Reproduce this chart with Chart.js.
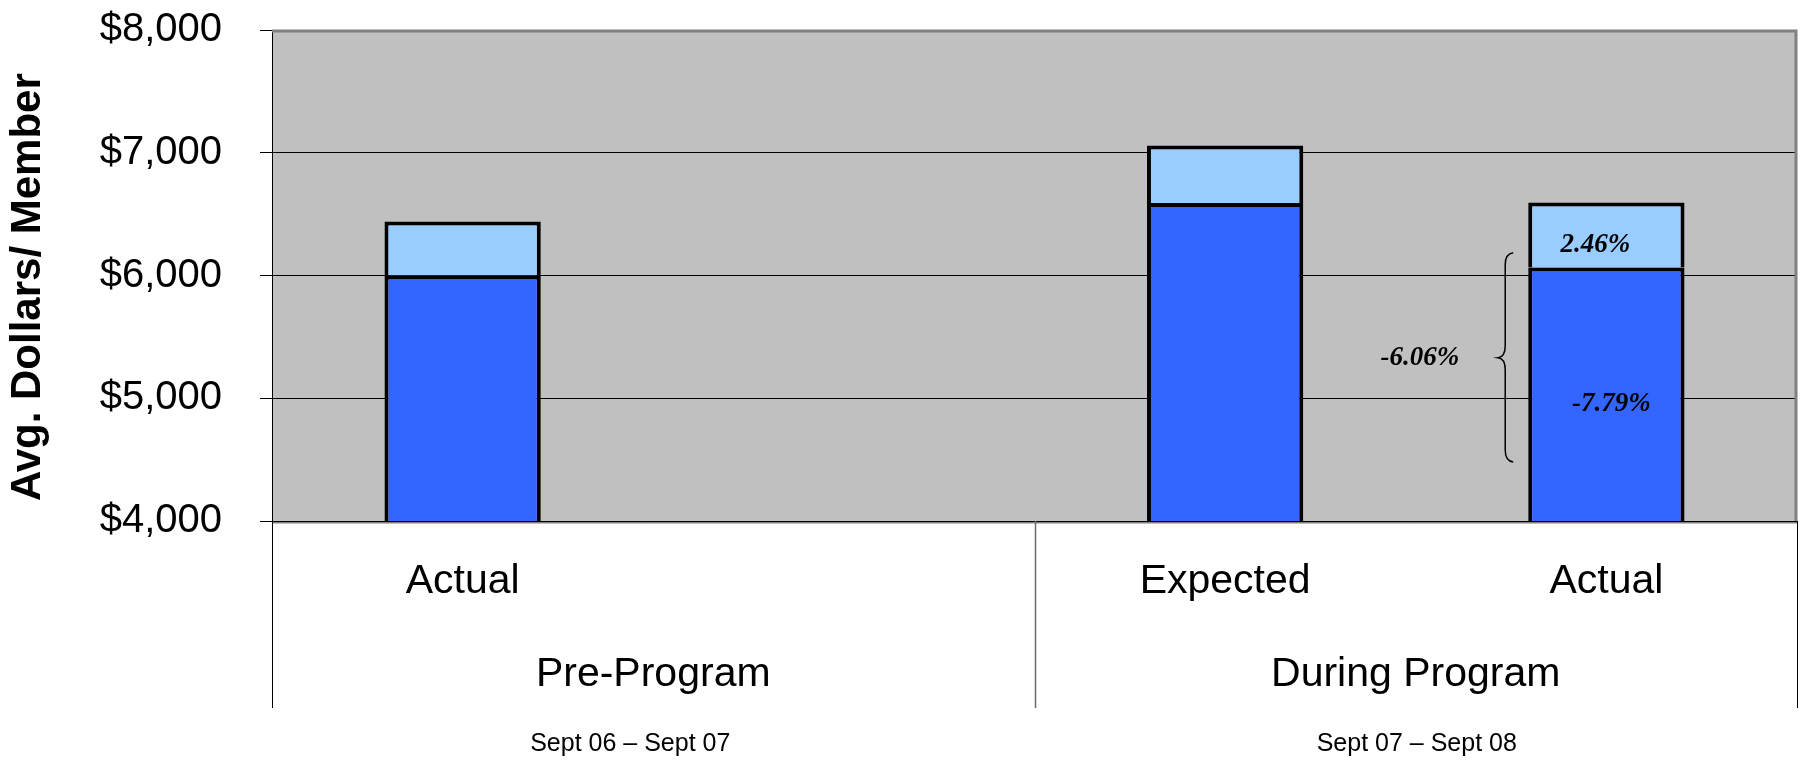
<!DOCTYPE html>
<html>
<head>
<meta charset="utf-8">
<title>Avg. Dollars/ Member</title>
<script src="https://cdn.jsdelivr.net/npm/chart.js@4.4.1/dist/chart.umd.min.js"></script>
<style>
    html, body { margin: 0; padding: 0; background: #fff; }
    #costChart { display: block; }
</style>
</head>
<body>
<canvas id="costChart" width="1810" height="760"></canvas>
<script>
const barLabels = ["Actual", "", "Expected", "Actual"];
const baseCost = [6000, null, 6590, 6065];
const topCost = [440, null, 470, 530];
const yTicks = [4000, 5000, 6000, 7000, 8000];

const groups = [
    { name: "Pre-Program", period: "Sept 06 \u2013 Sept 07", from: 0, to: 2 },
    { name: "During Program", period: "Sept 07 \u2013 Sept 08", from: 2, to: 4 }
];
const periodShift = [-23, 1];

const pctNotes = [
    { text: "2.46%", slot: 3, value: 6250, dx: -11 },
    { text: "-7.79%", slot: 3, value: 4950, dx: 5 },
    { text: "-6.06%", slot: 2.5, value: 5330, dx: 4 }
];
const brace = { slot: 3, from: 6185, to: 4480, tip: 5330 };

const SANS = "'Liberation Sans', Arial, sans-serif";
const SERIF = "'Liberation Serif', 'Times New Roman', serif";

function slotPixel(xScale, slot) {
    const lo = Math.floor(slot);
    if (lo === slot) return xScale.getPixelForValue(slot);
    const a = xScale.getPixelForValue(lo);
    const b = xScale.getPixelForValue(lo + 1);
    return a + (b - a) * (slot - lo);
}

// grey plot fill behind the grid
const plotBackground = {
    id: "plotBackground",
    beforeDraw(chart) {
        const { ctx, chartArea: a } = chart;
        ctx.save();
        ctx.fillStyle = "#c0c0c0";
        ctx.fillRect(a.left, a.top, a.right - a.left, a.bottom - a.top);
        ctx.restore();
    }
};

// frame, group dividers, group labels, percentage notes and the brace
const chartExtras = {
    id: "chartExtras",
    afterDatasetsDraw(chart) {
        const { ctx, chartArea: a, scales: { x, y } } = chart;
        ctx.save();

        ctx.strokeStyle = "#808080";
        ctx.lineWidth = 3;
        ctx.beginPath();
        ctx.moveTo(a.left, a.top + 1);
        ctx.lineTo(a.right - 1, a.top + 1);
        ctx.lineTo(a.right - 1, a.bottom);
        ctx.stroke();

        ctx.lineWidth = 2;
        ctx.beginPath();
        ctx.moveTo(a.left, a.bottom + 1.5);
        ctx.lineTo(a.right, a.bottom + 1.5);
        ctx.stroke();

        ctx.strokeStyle = "#000";
        ctx.lineWidth = 1;
        ctx.beginPath();
        ctx.moveTo(a.left - 12, Math.round(a.bottom) + 0.5);
        ctx.lineTo(a.right, Math.round(a.bottom) + 0.5);
        ctx.stroke();

        // vertical dividers under the axis
        const dividerEnd = 708;
        const bounds = [0, 2, 4];
        bounds.forEach((b, i) => {
            let px = slotPixel(x, b - 0.5);
            if (i === 0) px = a.left;
            if (i === bounds.length - 1) px = a.right;
            ctx.strokeStyle = i === 1 ? "#6a6a6a" : "#000";
            ctx.lineWidth = i === 1 ? 1.5 : 1;
            ctx.beginPath();
            ctx.moveTo(Math.round(px) + 0.5, a.bottom);
            ctx.lineTo(Math.round(px) + 0.5, dividerEnd);
            ctx.stroke();
        });

        ctx.fillStyle = "#000";
        ctx.textAlign = "center";
        ctx.textBaseline = "middle";
        groups.forEach((g, i) => {
            const left = i === 0 ? a.left : slotPixel(x, g.from - 0.5);
            const right = i === groups.length - 1 ? a.right : slotPixel(x, g.to - 0.5);
            const cx = (left + right) / 2;
            ctx.font = "41px " + SANS;
            ctx.fillText(g.name, cx, 675);
            ctx.font = "25px " + SANS;
            ctx.fillText(g.period, cx + periodShift[i], 744);
        });

        ctx.font = "italic bold 27px " + SERIF;
        pctNotes.forEach(n => {
            ctx.fillText(n.text, slotPixel(x, n.slot) + n.dx, y.getPixelForValue(n.value));
        });

        const bar = chart.getDatasetMeta(0).data[brace.slot];
        const spine = bar.x - bar.width / 2 - 23;
        const yTop = y.getPixelForValue(brace.from);
        const yBot = y.getPixelForValue(brace.to);
        const yMid = y.getPixelForValue(brace.tip);
        ctx.strokeStyle = "#000";
        ctx.lineWidth = 1.5;
        ctx.beginPath();
        ctx.moveTo(spine + 8, yTop);
        ctx.quadraticCurveTo(spine, yTop + 1, spine, yTop + 12);
        ctx.lineTo(spine, yMid - 12);
        ctx.quadraticCurveTo(spine, yMid - 1, spine - 7, yMid);
        ctx.quadraticCurveTo(spine, yMid + 1, spine, yMid + 12);
        ctx.lineTo(spine, yBot - 12);
        ctx.quadraticCurveTo(spine, yBot - 1, spine + 8, yBot);
        ctx.stroke();

        ctx.restore();
    }
};

function createCostChart() {
    const ctx = document.getElementById("costChart").getContext("2d");
    return new Chart(ctx, {
        type: "bar",
        data: {
            labels: barLabels,
            datasets: [{
                data: baseCost,
                backgroundColor: "#3366ff",
                borderColor: "#000",
                borderWidth: 4,
                borderSkipped: false
            }, {
                data: topCost,
                backgroundColor: "#99ccff",
                borderColor: "#000",
                borderWidth: 4,
                borderSkipped: "start"
            }]
        },
        options: {
            responsive: false,
            animation: false,
            devicePixelRatio: 1,
            barPercentage: 0.41,
            categoryPercentage: 1,
            layout: { padding: { top: 30, right: 13, bottom: 0, left: 0 } },
            plugins: {
                legend: { display: false },
                tooltip: { enabled: false }
            },
            scales: {
                x: {
                    stacked: true,
                    grid: { display: false },
                    border: { display: false },
                    ticks: {
                        color: "#000",
                        font: { family: SANS, size: 41 },
                        padding: 28,
                        maxRotation: 0
                    },
                    afterFit(scale) { scale.height = 239; }
                },
                y: {
                    stacked: true,
                    min: 4000,
                    max: 8000,
                    afterBuildTicks(scale) {
                        scale.ticks = yTicks.map(v => ({ value: v }));
                    },
                    grid: { color: "#000", lineWidth: 1, tickLength: 12, tickColor: "#000" },
                    border: { display: true, color: "#000", width: 1 },
                    ticks: {
                        color: "#000",
                        font: { family: SANS, size: 40 },
                        padding: 38,
                        callback: v => "$" + v.toLocaleString("en-US")
                    },
                    title: {
                        display: true,
                        text: "Avg. Dollars/ Member  ",
                        color: "#000",
                        font: { family: SANS, size: 42, weight: "bold" },
                        padding: { top: 3, bottom: 0 }
                    },
                    afterFit(scale) {
                        scale.width = 272;
                        // the wide label padding should not push the plot down
                        scale.paddingTop = 0;
                        scale.paddingBottom = 0;
                    }
                }
            }
        },
        plugins: [plotBackground, chartExtras]
    });
}

document.addEventListener("DOMContentLoaded", createCostChart);
</script>
</body>
</html>
